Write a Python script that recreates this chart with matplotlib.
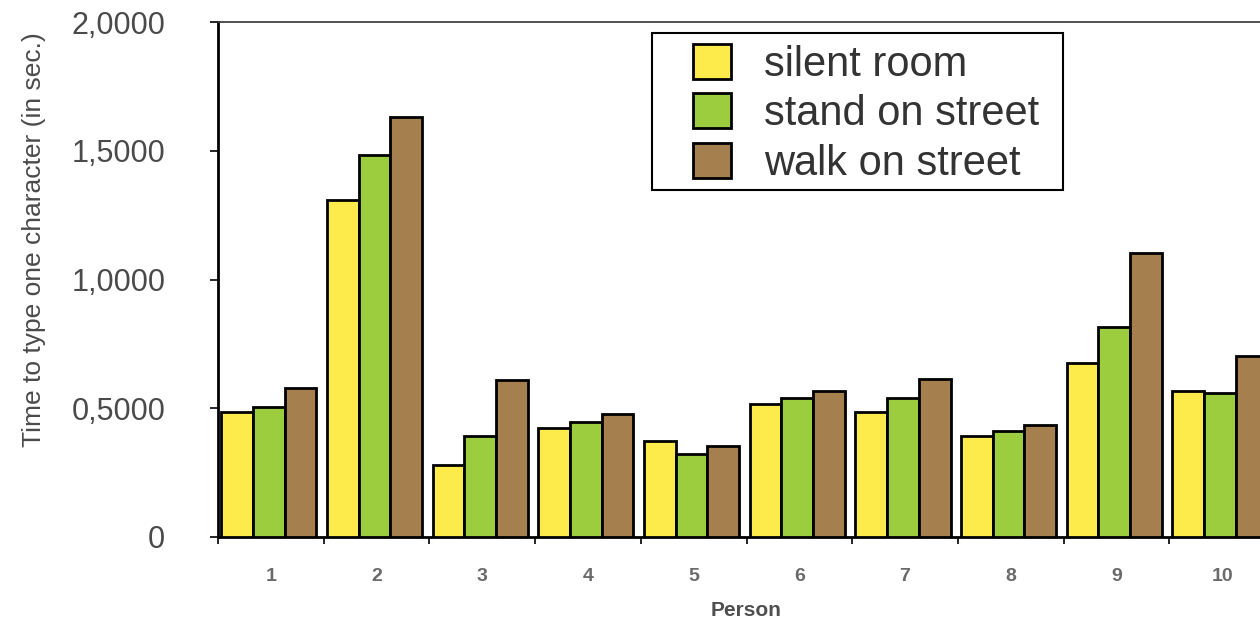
import numpy as np
import matplotlib
matplotlib.use("Agg")
import matplotlib.pyplot as plt
from matplotlib.patches import Rectangle

# -------------------------
# Datos
# -------------------------
persons = ["1", "2", "3", "4", "5", "6", "7", "8", "9", "10"]
silent_room = [0.487, 1.309, 0.280, 0.425, 0.373, 0.517, 0.487, 0.393, 0.674, 0.568]
stand_street = [0.506, 1.483, 0.393, 0.445, 0.321, 0.539, 0.539, 0.413, 0.817, 0.558]
walk_street = [0.580, 1.630, 0.610, 0.476, 0.353, 0.568, 0.612, 0.435, 1.102, 0.704]
series_names = ["silent room", "stand on street", "walk on street"]
y_ticks = [0, 0.5, 1.0, 1.5, 2.0]
y_tick_labels = ["0", "0,5000", "1,0000", "1,5000", "2,0000"]

colors = ["#FCEB4B", "#9BCD3E", "#A67F4E"]
grey = "#4a4a4a"

plt.rcParams["font.family"] = ["Liberation Sans", "DejaVu Sans"]

fig = plt.figure(figsize=(12.6, 6.19), dpi=100)
# el eje se sale por la derecha como en la captura original
ax = fig.add_axes([218 / 1260, 1 - 537 / 619, 1057 / 1260, 515 / 619])

x = np.arange(len(persons))
w = 0.3
shift = -0.02
for i, (vals, name) in enumerate(zip([silent_room, stand_street, walk_street], series_names)):
    ax.bar(x + shift + (i - 1) * w, vals, width=w, color=colors[i],
           edgecolor="black", linewidth=2, label=name, zorder=3)

ax.set_xlim(-0.5, len(persons) - 0.5)
ax.set_ylim(0, 2.0)

# ticks del eje x en los límites de cada grupo, etiquetas al centro
ax.set_xticks(np.arange(-0.5, len(persons), 1.0))
ax.set_xticklabels([])
ax.set_xticks(x, minor=True)
ax.set_xticklabels(persons, minor=True, fontsize=14, fontweight="bold", color="#6a6a6a")
ax.tick_params(axis="x", which="major", direction="out", length=5, width=1.2)
ax.tick_params(axis="x", which="minor", length=0, pad=22)

ax.set_yticks(y_ticks)
ax.set_yticklabels(y_tick_labels, fontsize=22, color=grey)
ax.tick_params(axis="y", direction="out", length=6, width=1.2, pad=32)

ax.set_xlabel("Person", fontsize=15, fontweight="bold", color="#4f4f4f", labelpad=12)
ax.set_ylabel("Time to type one character (in sec.)", fontsize=19, color=grey)
ax.yaxis.set_label_coords(-0.163, 0.577)

for side in ["left", "bottom"]:
    ax.spines[side].set_linewidth(2)
ax.spines["top"].set_linewidth(1.2)
ax.spines["top"].set_color("#333333")
ax.spines["right"].set_visible(False)

# leyenda sin marco propio; el marco se dibuja aparte
leg = ax.legend(loc="upper left", bbox_to_anchor=(0.4494, 0.958), fontsize=30,
                frameon=False, handlelength=0.92, handleheight=0.92,
                labelspacing=0.21, borderpad=0, handletextpad=0.78,
                borderaxespad=0)
for t in leg.get_texts():
    t.set_color("#333333")
for p in leg.get_patches():
    p.set_linewidth(2)
ax.add_patch(Rectangle((0.4106, 0.6738), 0.3888, 0.3048, transform=ax.transAxes,
                       fill=False, edgecolor="black", linewidth=1.5, zorder=5))

fig.savefig("out.png", dpi=100)
